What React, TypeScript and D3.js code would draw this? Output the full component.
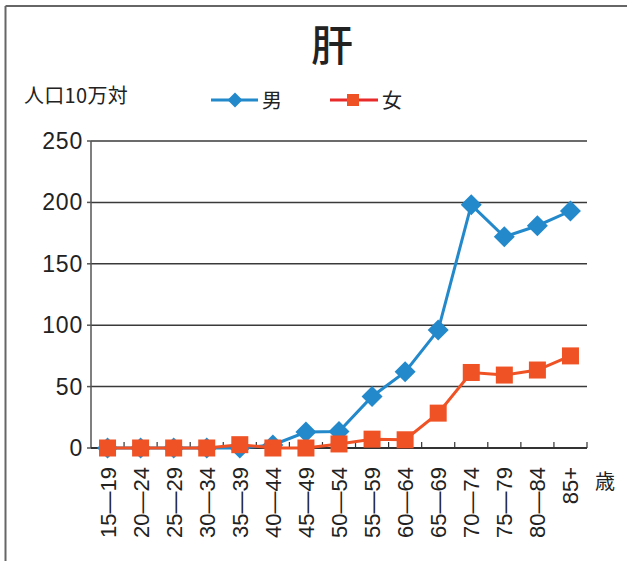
import React from "react";
import * as d3 from "d3";

const categories = ["15—19","20—24","25—29","30—34","35—39","40—44","45—49","50—54","55—59","60—64","65—69","70—74","75—79","80—84","85+"];
const maleValues = [0,0,0,0,0,2.5,13,13.5,42,62,96,198,172,181,193];
const femaleValues = [0,0,0,0,2.7,0,0,3.3,7.2,6.7,28.4,61.5,59.4,63.5,75];
const yTicks = [0,50,100,150,200,250];
const title = "肝";
const yUnit = "人口10万対";
const xUnit = "歳";
const seriesNames = ["男","女"];

const W = 627, H = 561;
const left = 91, right = 587, top = 141, bottom = 448;
const BLUE = "#2389cb";
const ORANGE = "#ef5225";
const LEGEND_RED = "#e92a2a";
const FONT = "'Liberation Sans', Arial, sans-serif";
const CJK = "'Noto Sans CJK JP', sans-serif";

export default function App() {
  const x = d3.scaleBand<string>().domain(categories).range([left, right]).padding(0);
  const y = d3.scaleLinear().domain([0, 250]).range([bottom, top]);
  const cx = (c: string) => (x(c) as number) + x.bandwidth() / 2;
  const line = d3.line<number>().x((_, i) => cx(categories[i])).y((d) => y(d));
  const boundaries = categories.map((c) => (x(c) as number) + x.bandwidth());
  const dSize = 10.5;
  const sSize = 17;

  return (
    <svg width={W} height={H} style={{ position: "absolute", left: 0, top: 0, background: "#fff" }}>
      <line x1={5.5} y1={6} x2={5.5} y2={H} stroke="#666" strokeWidth={2} />
      <line x1={5.5} y1={6} x2={W} y2={6} stroke="#666" strokeWidth={2} />

      <text x={332} y={61} textAnchor="middle" fontFamily={CJK} fontSize={42} fontWeight={500} fill="#222">{title}</text>
      <text x={24} y={103} fontFamily={CJK} fontSize={20} fill="#222" letterSpacing={0.3}>{yUnit}</text>

      <line x1={211} x2={258} y1={100} y2={100} stroke={BLUE} strokeWidth={3} />
      <path d={`M235,${100 - 7.5}L${242.5},100L235,${107.5}L${227.5},100Z`} fill={BLUE} />
      <text x={262} y={108} fontFamily={CJK} fontSize={20} fill="#222">{seriesNames[0]}</text>
      <line x1={330} x2={378} y1={100} y2={100} stroke={LEGEND_RED} strokeWidth={3} />
      <rect x={347} y={94} width={12} height={12} fill={ORANGE} />
      <text x={382} y={108} fontFamily={CJK} fontSize={20} fill="#222">{seriesNames[1]}</text>

      {yTicks.filter((t) => t > 0).map((t) => (
        <line key={t} x1={left} x2={right} y1={y(t)} y2={y(t)} stroke="#3a3a3a" strokeWidth={1.5} />
      ))}
      <line x1={left} x2={left} y1={top} y2={bottom} stroke="#555" strokeWidth={1.5} />
      {yTicks.map((t) => (
        <g key={t}>
          <line x1={left - 4} x2={left} y1={y(t)} y2={y(t)} stroke="#555" strokeWidth={1.5} />
          <text x={83} y={y(t) + 8} textAnchor="end" fontFamily={FONT} fontSize={23} letterSpacing={0.8} fill="#222">{t}</text>
        </g>
      ))}
      <line x1={left} x2={right} y1={bottom} y2={bottom} stroke="#333" strokeWidth={2} />
      {boundaries.map((b, i) => (
        <line key={i} x1={b} x2={b} y1={bottom} y2={bottom - 6} stroke="#333" strokeWidth={1.2} />
      ))}
      {categories.map((c) => (
        <text key={c} transform={`translate(${cx(c) + 8},467) rotate(-90)`} textAnchor="end" fontFamily={FONT} fontSize={22} fill="#222">{c}</text>
      ))}
      <text x={595} y={489} fontFamily={CJK} fontSize={20} fill="#222">{xUnit}</text>

      <path d={line(maleValues) as string} fill="none" stroke={BLUE} strokeWidth={3} />
      {maleValues.map((v, i) => {
        const px = cx(categories[i]), py = y(v);
        return <path key={i} d={`M${px},${py - dSize}L${px + dSize},${py}L${px},${py + dSize}L${px - dSize},${py}Z`} fill={BLUE} />;
      })}
      <path d={line(femaleValues) as string} fill="none" stroke={ORANGE} strokeWidth={3} />
      {femaleValues.map((v, i) => (
        <rect key={i} x={cx(categories[i]) - sSize / 2} y={y(v) - sSize / 2} width={sSize} height={sSize} fill={ORANGE} />
      ))}
    </svg>
  );
}
